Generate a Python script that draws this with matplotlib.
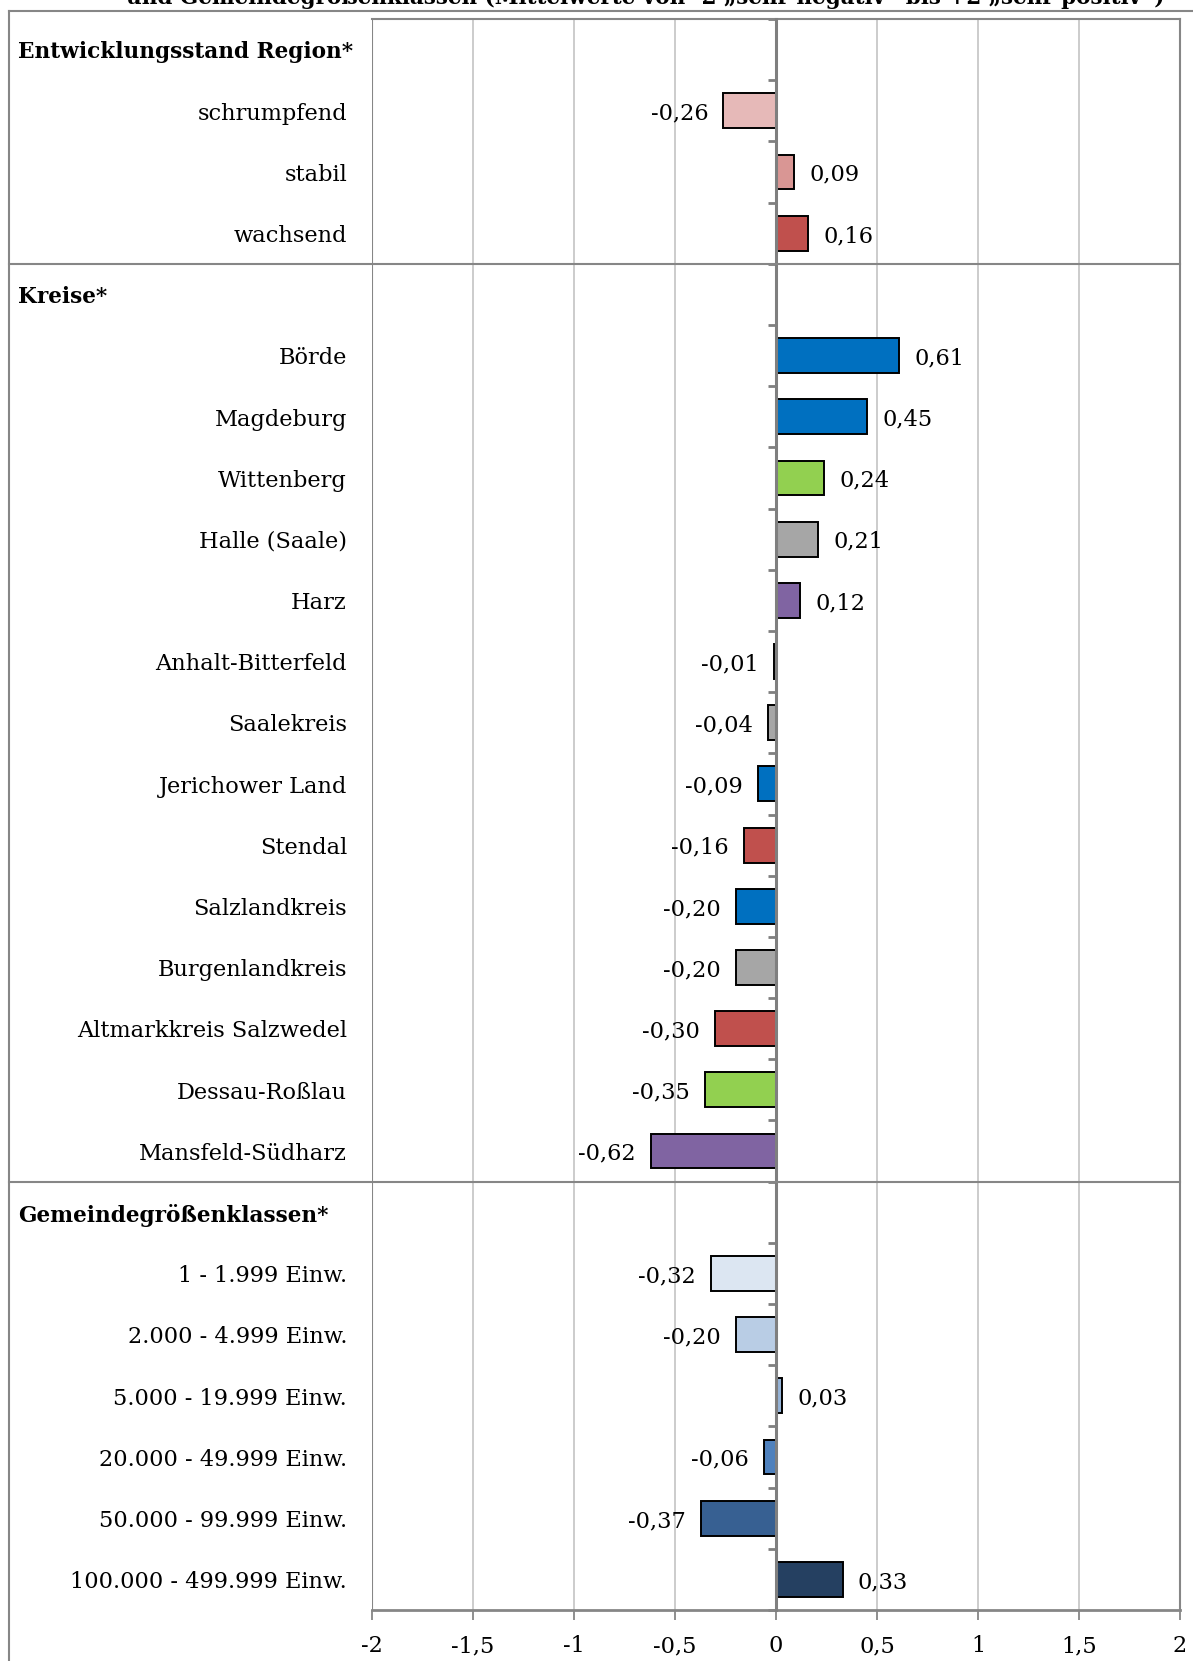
import matplotlib.pyplot as plt
import matplotlib.transforms as mtransforms
from matplotlib.lines import Line2D
from matplotlib.ticker import FixedLocator
import numpy as np

plt.rcParams['font.family'] = ['DejaVu Serif']

# Development status of the region
region_labels = ['schrumpfend', 'stabil', 'wachsend']
region_values = [-0.26, 0.09, 0.16]
region_colors = ['#E6B9B8', '#D99694', '#C0504D']

# Districts
kreis_labels = ['Börde', 'Magdeburg', 'Wittenberg', 'Halle (Saale)', 'Harz',
                'Anhalt-Bitterfeld', 'Saalekreis', 'Jerichower Land', 'Stendal',
                'Salzlandkreis', 'Burgenlandkreis', 'Altmarkkreis Salzwedel',
                'Dessau-Roßlau', 'Mansfeld-Südharz']
kreis_values = [0.61, 0.45, 0.24, 0.21, 0.12, -0.01, -0.04, -0.09, -0.16,
                -0.20, -0.20, -0.30, -0.35, -0.62]
kreis_colors = ['#0070C0', '#0070C0', '#92D050', '#A6A6A6', '#8064A2',
                '#7F7F7F', '#A6A6A6', '#0070C0', '#C0504D', '#0070C0',
                '#A6A6A6', '#C0504D', '#92D050', '#8064A2']

# Municipality size classes
size_labels = ['1 - 1.999 Einw.', '2.000 - 4.999 Einw.', '5.000 - 19.999 Einw.',
               '20.000 - 49.999 Einw.', '50.000 - 99.999 Einw.',
               '100.000 - 499.999 Einw.']
size_values = [-0.32, -0.20, 0.03, -0.06, -0.37, 0.33]
size_colors = ['#DCE6F2', '#B9CDE5', '#95B3D7', '#4F81BD', '#376092', '#254061']

group_titles = ['Entwicklungsstand Region*', 'Kreise*', 'Gemeindegrößenklassen*']
x_ticks = [-2, -1.5, -1, -0.5, 0, 0.5, 1, 1.5, 2]

title = 'und Gemeindegrößenklassen (Mittelwerte von -2 „sehr negativ“ bis +2 „sehr positiv“)'

groups = [
    (group_titles[0], region_labels, region_values, region_colors),
    (group_titles[1], kreis_labels, kreis_values, kreis_colors),
    (group_titles[2], size_labels, size_values, size_colors),
]

W, H = 1193, 1661
fig = plt.figure(figsize=(W / 100, H / 100), dpi=100)
ax = fig.add_axes([372 / W, 1 - 1610 / H, (1180 - 372) / W, (1610 - 19) / H])

FS = 16.2
FS_HEAD = 15.6
GRAY = '#868686'
AXIS = '#7F7F7F'

# flatten the groups into rows: a header row without a bar, then the items
rows = []
separators = []
pos = 0
for name, labels, values, colors in groups:
    if pos:
        separators.append(pos - 0.5)
    rows.append((name, None, None, True))
    pos += 1
    for lab, val, col in zip(labels, values, colors):
        rows.append((lab, val, col, False))
        pos += 1
n_rows = len(rows)

label_tf = mtransforms.blended_transform_factory(fig.transFigure, ax.transData)
text_tf = mtransforms.offset_copy(label_tf, fig=fig, y=-2, units='points')
for i, (lab, val, col, header) in enumerate(rows):
    if header:
        ax.text(18 / W, i, lab, transform=text_tf, ha='left', va='center',
                fontsize=FS_HEAD, fontweight='bold', clip_on=False)
        continue
    ax.text(347 / W, i, lab, transform=text_tf, ha='right', va='center',
            fontsize=FS, clip_on=False)
    ax.barh(i, val, height=0.57, color=col, edgecolor='black',
            linewidth=1.4, zorder=3)
    txt = f'{val:.2f}'.replace('.', ',')
    off = 11 if val >= 0 else -11
    ax.annotate(txt, xy=(val, i), xytext=(off, -2), textcoords='offset points',
                ha='left' if val >= 0 else 'right', va='center',
                fontsize=FS, zorder=5)

ax.set_xlim(-2, 2)
ax.set_ylim(n_rows - 0.5, -0.5)

# x axis
ax.set_xticks(x_ticks)
ax.set_xticklabels([f'{t:g}'.replace('.', ',') for t in x_ticks], fontsize=FS)
ax.tick_params(axis='x', direction='out', length=7, width=1.3, color=GRAY, pad=11)
ax.grid(axis='x', color='#BFBFBF', linewidth=1.1, zorder=0)
ax.set_axisbelow(True)

# zero line acts as category axis with ticks between the rows
ax.spines['left'].set_position(('data', 0))
ax.spines['left'].set_color(AXIS)
ax.spines['left'].set_linewidth(2.2)
ax.spines['left'].set_zorder(6)
ax.set_yticks([])
ax.yaxis.set_minor_locator(FixedLocator(np.arange(-0.5, n_rows, 1.0)))
ax.tick_params(axis='y', which='minor', direction='out', length=6, width=2,
               color=AXIS, labelleft=False)

for side in ['top', 'right', 'bottom']:
    ax.spines[side].set_color(GRAY)
    ax.spines[side].set_linewidth(1.5)
ax.spines['bottom'].set_linewidth(2)
ax.axvline(-2, color=GRAY, linewidth=1.5, zorder=6)

# section separators across label column and plot
for s in separators:
    fig.add_artist(Line2D([9 / W, 1180 / W], [s, s], transform=label_tf,
                          color=GRAY, linewidth=1.5, clip_on=False))

# outer frame of the table
top_y = 1 - 10.5 / H
fig.add_artist(Line2D([9 / W, 1], [top_y, top_y], transform=fig.transFigure,
                      color=GRAY, linewidth=1.5))
fig.add_artist(Line2D([9 / W, 9 / W], [0, top_y], transform=fig.transFigure,
                      color=GRAY, linewidth=1.5))

# heading continues from above, only its lower part is on the page
fig.text(645 / W, 1 - 4 / H, title, ha='center', va='baseline',
         fontsize=15.5, fontweight='bold')

fig.savefig('out.png', dpi=100)
